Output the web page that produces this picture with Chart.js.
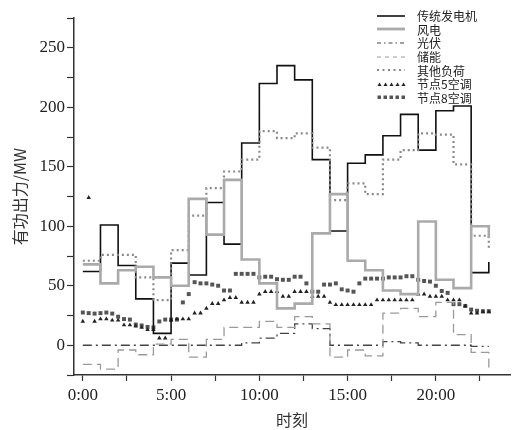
<!DOCTYPE html>
<html>
<head>
<meta charset="utf-8">
<script src="https://cdn.jsdelivr.net/npm/chart.js@4.4.1/dist/chart.umd.min.js"></script>
<style>
  html, body { margin: 0; padding: 0; background: #fff; }
  #wrap { position: relative; width: 514px; height: 430px; }
  #legend { position: absolute; left: 377px; top: 9px; font: 12px "Noto Sans CJK SC", "Liberation Serif", serif; color: #222; }
  .row { display: flex; align-items: center; height: 13.6px; }
  .row svg { width: 30px; height: 10px; margin-right: 10px; }
</style>
</head>
<body>
<div id="wrap">
  <canvas id="chart" width="514" height="430"></canvas>
  <div id="legend"></div>
</div>
<script>
// hourly step series (value holds from hour h to h+1)
const hours = [0, 1, 2, 3, 4, 5, 6, 7, 8, 9, 10, 11, 12, 13, 14, 15, 16, 17, 18, 19, 20, 21, 22, 23];
const thermal = [62, 101, 67, 39, 10, 69, 59, 120, 85, 170, 220, 235, 223, 156, 96, 153, 160, 176, 194, 164, 197, 201, 61, 70];
const wind = [68, 52, 63, 66, 57, 50, 123, 93, 139, 72, 52, 31, 35, 94, 127, 71, 63, 46, 43, 104, 55, 48, 100, 90];
const pv = [0, 0, 0, 0, 0, 0, 0, 0, 0, 2, 6, 10, 18, 14, 0, 0, 0, 3, 2, 0, 0, 0, -1, -1];
const storage = [-16, -20, -4, -8, 1, 5, -10, 5, 15, 15, 20, 15, 24, 18, -10, -4, -9, 27, 31, 24, 36, 9, -6, -20];
const otherLoad = [71, 76, 76, 57, 38, 80, 109, 132, 146, 156, 180, 174, 178, 166, 122, 136, 127, 156, 164, 178, 177, 152, 92, 80];

// air-conditioner loads, one sample every 20 minutes
const ac5 = [20, 124, 20, 22, 22, 21, 21, 17, 17, 16, 15, 13, 13, 6, 6, 21, 22, 22, 22, 27,
  27, 31, 35, 35, 38, 40, 40, 36, 36, 36, 43, 45, 45, 45, 41, 41, 45, 45, 45, 41,
  41, 41, 36, 34, 34, 34, 34, 34, 34, 34, 38, 38, 38, 38, 38, 38, 38, 43, 43, 41,
  41, 41, 38, 38, 38, 33, 27, 27, 28, 28];
const ac8 = [27.5, 27, 26.6, 27, 27.5, 26.6, 24, 22, 21.6, 17.4, 16.6, 15.4, 15, 20, 21.6, 21.6, 21.6, 36, 43, 53,
  52, 52, 51, 50, 46, 46, 60, 60, 60, 60, 57, 57.6, 57.6, 55.5, 55, 55, 57.6, 57.6, 52, 45,
  45, 51, 51, 52, 47, 46, 45, 52, 56, 56, 56, 56, 57, 57, 57, 58, 58, 55, 54, 53.5,
  50, 45.6, 44, 34.5, 34.5, 33, 30, 29, 28.6, 28.6];
const acTimes = ac5.map((_, i) => i / 3);

const xTicks = [0, 2.5, 5, 7.5, 10, 12.5, 15, 17.5, 20, 22.5];
const labels = ['传统发电机', '风电', '光伏', '储能', '其他负荷', '节点5空调', '节点8空调'];

const tickFont = { family: '"Liberation Serif", "Times New Roman", serif', size: 17 };
const titleFont = { family: '"Noto Sans CJK SC", sans-serif', size: 16 };
const axisColor = '#333';

function stepSeries(label, values, style) {
  return Object.assign({
    label,
    data: hours.map((h, i) => ({ x: h, y: values[i] })),
    stepped: 'before',
    pointRadius: 0,
    fill: false,
  }, style);
}

function markerSeries(label, values, style) {
  return Object.assign({
    label,
    data: acTimes.map((t, i) => ({ x: t, y: values[i] })),
    showLine: false,
  }, style);
}

const datasets = [
  stepSeries(labels[1], wind, { borderColor: '#aaaaaa', borderWidth: 2.6 }),
  stepSeries(labels[4], otherLoad, { borderColor: '#8a8a8a', borderWidth: 2.2, borderDash: [2, 3] }),
  stepSeries(labels[0], thermal, { borderColor: '#111', borderWidth: 1.6 }),
  stepSeries(labels[3], storage, { borderColor: '#9a9a9a', borderWidth: 1.3, borderDash: [9, 5] }),
  stepSeries(labels[2], pv, { borderColor: '#444', borderWidth: 1.3, borderDash: [9, 4, 2, 4] }),
  markerSeries(labels[5], ac5, { pointStyle: 'triangle', pointRadius: 2.6, backgroundColor: '#222', borderColor: '#222', borderWidth: 0 }),
  markerSeries(labels[6], ac8, { pointStyle: 'rect', pointRadius: 2.8, backgroundColor: '#555', borderColor: '#555', borderWidth: 0 }),
];

new Chart(document.getElementById('chart'), {
  type: 'line',
  data: { datasets },
  options: {
    responsive: false,
    animation: false,
    layout: { padding: { top: 18, right: 0, left: 0, bottom: 0 } },
    plugins: { legend: { display: false }, tooltip: { enabled: false } },
    scales: {
      x: {
        type: 'linear',
        min: -0.5,
        max: 24.2,
        afterBuildTicks: (s) => { s.ticks = xTicks.map((v) => ({ value: v })); },
        afterFit: (s) => { s.height = 55; },
        ticks: {
          autoSkip: false, maxRotation: 0, padding: 4, color: '#222', font: tickFont,
          callback: (v) => (v % 5 === 0 ? v + ':00' : ''),
        },
        grid: { drawOnChartArea: false, tickLength: 6, color: axisColor, tickWidth: 1.2 },
        border: { color: axisColor, width: 1.5 },
        title: { display: true, text: '时刻', color: '#333', font: titleFont, padding: { top: 0, bottom: 0 } },
      },
      y: {
        min: -25,
        max: 275,
        afterFit: (s) => { s.width = 74; },
        ticks: {
          stepSize: 25, padding: 2, color: '#222', font: tickFont,
          callback: (v) => (v % 50 === 0 ? v : ''),
        },
        grid: { drawOnChartArea: false, tickLength: 7, color: axisColor, tickWidth: 1.2 },
        border: { color: axisColor, width: 1.5 },
        title: { display: true, text: '有功出力/MW', color: '#333', font: titleFont, padding: { top: 10, bottom: 0 } },
      },
    },
  },
});

// legend swatches
const swatches = [
  '<line x1="0" y1="5" x2="28" y2="5" stroke="#111" stroke-width="1.6"/>',
  '<line x1="0" y1="5" x2="28" y2="5" stroke="#aaa" stroke-width="2.8"/>',
  '<line x1="0" y1="5" x2="28" y2="5" stroke="#444" stroke-width="1" stroke-dasharray="4,3,1.5,3"/>',
  '<line x1="0" y1="5" x2="28" y2="5" stroke="#999" stroke-width="1" stroke-dasharray="4,4"/>',
  '<line x1="0" y1="5" x2="28" y2="5" stroke="#888" stroke-width="2" stroke-dasharray="2,3.5"/>',
  [0, 1, 2, 3, 4].map((i) => `<polygon points="${i * 6 + 0.5},7 ${i * 6 + 4.5},7 ${i * 6 + 2.5},3.5" fill="#222"/>`).join(''),
  [0, 1, 2, 3, 4].map((i) => `<rect x="${i * 6 + 0.5}" y="3.5" width="3.5" height="3.5" fill="#555"/>`).join(''),
];
document.getElementById('legend').innerHTML = labels.map((t, i) =>
  `<div class="row"><svg viewBox="0 0 30 10">${swatches[i]}</svg><span>${t}</span></div>`).join('');
</script>
</body>
</html>
